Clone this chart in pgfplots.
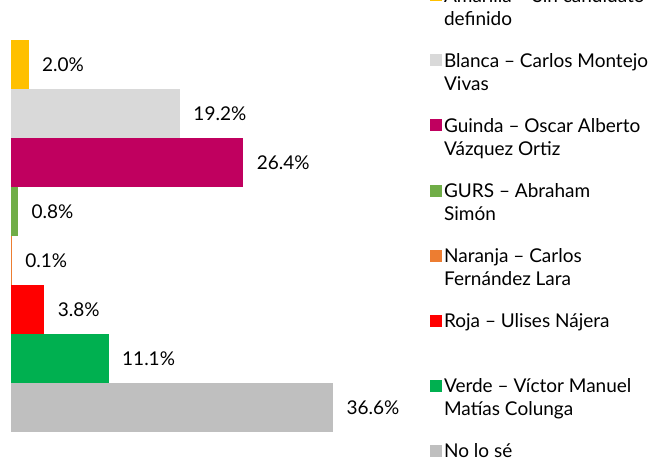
\documentclass[border=0pt]{standalone}
\usepackage{pgfplots}
\pgfplotsset{compat=1.18}
\usepackage{fontspec}
\setmainfont{Lato}

\definecolor{amarilla}{HTML}{FFC000}
\definecolor{blanca}{HTML}{D9D9D9}
\definecolor{guinda}{HTML}{C0005F}
\definecolor{gurs}{HTML}{70AD47}
\definecolor{naranja}{HTML}{ED7D31}
\definecolor{roja}{HTML}{FF0000}
\definecolor{verde}{HTML}{00B050}
\definecolor{nolose}{HTML}{BFBFBF}

\newcommand{\lfont}{\fontsize{19}{23}\selectfont}
\newcommand{\entry}[2]{\parbox[t]{250pt}{\strut #1\\\strut #2}}

\begin{document}
\begin{tikzpicture}
\useasboundingbox (0,0) rectangle (663pt,461pt);
\begin{axis}[
    at={(11pt,29pt)}, anchor=south west,
    scale only axis, width=352pt, height=392pt,
    xmin=0, xmax=40, ymin=-0.5, ymax=7.5, y dir=reverse,
    axis lines=none, clip=false,
    xbar, bar width=49pt, bar shift=0pt,
    every axis plot/.append style={draw=none},
    nodes near coords={\pgfmathprintnumber[fixed,fixed zerofill,precision=1]{\pgfplotspointmeta}\%},
    nodes near coords style={anchor=west, xshift=10pt, font=\lfont, text=black},
    /pgf/number format/assume math mode=true,
    legend image code/.code={\fill[#1] (0pt,1pt) rectangle (12pt,13pt);},
    legend cell align=left,
    legend style={at={(axis description cs:1.19,1.143)}, anchor=north west,
        draw=none, fill=none, font=\lfont, inner sep=0pt,
        cells={anchor=base west}, row sep=43.5pt,
        /tikz/every even column/.append style={column sep=7pt}},
]
\addplot[fill=amarilla] coordinates {(2.0,0)};
\addlegendentry{\entry{Amarilla – Sin candidato}{definido}}
\addplot[fill=blanca] coordinates {(19.2,1)};
\addlegendentry{\entry{Blanca – Carlos Montejo}{Vivas}}
\addplot[fill=guinda] coordinates {(26.4,2)};
\addlegendentry{\entry{Guinda – Oscar Alberto}{Vázquez Ortiz}}
\addplot[fill=gurs] coordinates {(0.8,3)};
\addlegendentry{\entry{GURS – Abraham}{Simón}}
\addplot[fill=naranja] coordinates {(0.1,4)};
\addlegendentry{\entry{Naranja – Carlos}{Fernández Lara}}
\addplot[fill=roja] coordinates {(3.8,5)};
\addlegendentry{\entry{Roja – Ulises Nájera}{}}
\addplot[fill=verde] coordinates {(11.1,6)};
\addlegendentry{\entry{Verde – Víctor Manuel}{Matías Colunga}}
\addplot[fill=nolose] coordinates {(36.6,7)};
\addlegendentry{\entry{No lo sé}{}}
\end{axis}
\end{tikzpicture}
\end{document}
